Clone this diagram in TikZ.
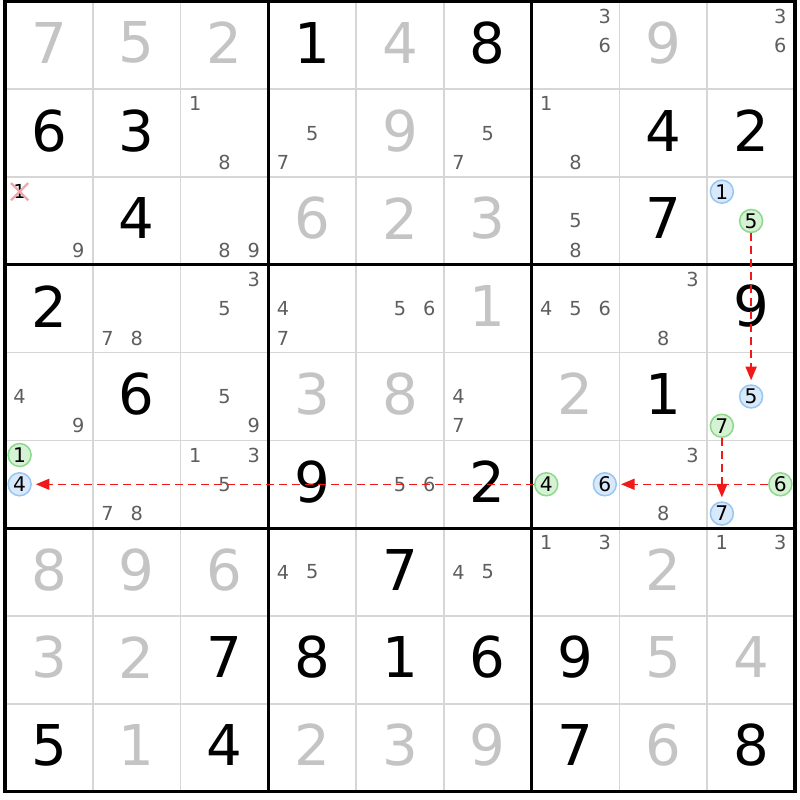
\documentclass[tikz,border=0pt]{standalone}
\usepackage{fontspec}
\setmainfont{DejaVu Sans}
\usetikzlibrary{arrows.meta,shapes.misc}

\definecolor{givengray}{HTML}{C4C4C4}
\definecolor{candgray}{HTML}{5E5E5E}
\definecolor{gridgray}{HTML}{D6D6D6}
\definecolor{greenfill}{HTML}{D5F2D5}
\definecolor{greendraw}{HTML}{8CD98C}
\definecolor{bluefill}{HTML}{D8E9FB}
\definecolor{bluedraw}{HTML}{98C6F2}
\definecolor{linkred}{HTML}{F01818}
\definecolor{crosspink}{HTML}{F4A4AC}

\tikzset{
    thingrid/.style={draw=gridgray, line width=0.035cm},
    thickgrid/.style={draw=black, line width=0.065cm},
    given/.style={text=givengray, font=\fontsize{32}{32}\selectfont, yshift=0.05cm},
    solved/.style={text=black, font=\fontsize{32}{32}\selectfont, yshift=0.05cm},
    cand/.style={text=candgray, font=\fontsize{11}{12}\selectfont, inner sep=0pt},
    circcand/.style={circle, inner sep=0pt, minimum size=0.46cm, line width=0.03cm,
        text=black, font=\fontsize{11.5}{12}\selectfont},
    greencand/.style={circcand, draw=greendraw, fill=greenfill},
    bluecand/.style={circcand, draw=bluedraw, fill=bluefill},
    elimcand/.style={cross out, draw=crosspink, line width=0.045cm, inner sep=0pt,
        minimum width=0.3cm, minimum height=0.3cm, text=black,
        font=\fontsize{11}{12}\selectfont},
    link/.style={draw=linkred, line width=0.03cm, dash pattern=on 0.16cm off 0.1cm,
        -{Triangle[length=0.27cm,width=0.22cm]}, shorten >=0.08cm},
}

% cell digits: column, row, digit
\newcommand{\givendigit}[3]{\node[given] at (#1-0.5,0.5-#2) {#3};}
\newcommand{\solveddigit}[3]{\node[solved] at (#1-0.5,0.5-#2) {#3};}
% pencil marks: column, row, list of digits
\newcommand{\cands}[3]{%
    \foreach \d in {#3}
        \node[cand] at ({#1-1+(mod(\d-1,3)+0.5)/3},{1-#2-(floor((\d-1)/3)+0.5)/3}) {\d};}
% marked pencil mark: [style] name, column, row, digit
\newcommand{\markedcand}[5][greencand]{%
    \node[#1] (#2) at ({#3-1+(mod(#5-1,3)+0.5)/3},{1-#4-(floor((#5-1)/3)+0.5)/3}) {#5};}

\begin{document}
\begin{tikzpicture}[x=1.756cm, y=1.756cm]
    \useasboundingbox[fill=white] (-0.057,0.017) rectangle (9.057,-9.097);

    % grid
    \foreach \i in {1,...,8} {
        \draw[thingrid] (\i,0) -- (\i,-9);
        \draw[thingrid] (0,-\i) -- (9,-\i);
    }
    \foreach \i in {3,6} {
        \draw[thickgrid] (\i,0) -- (\i,-9);
        \draw[thickgrid] (0,-\i) -- (9,-\i);
    }
    \draw[thickgrid] (0,0) rectangle (9,-9);

    % givens
    \givendigit{1}{1}{7} \givendigit{2}{1}{5} \givendigit{3}{1}{2}
    \givendigit{5}{1}{4} \givendigit{8}{1}{9}
    \givendigit{5}{2}{9}
    \givendigit{4}{3}{6} \givendigit{5}{3}{2} \givendigit{6}{3}{3}
    \givendigit{6}{4}{1}
    \givendigit{4}{5}{3} \givendigit{5}{5}{8} \givendigit{7}{5}{2}
    \givendigit{1}{7}{8} \givendigit{2}{7}{9} \givendigit{3}{7}{6} \givendigit{8}{7}{2}
    \givendigit{1}{8}{3} \givendigit{2}{8}{2} \givendigit{8}{8}{5} \givendigit{9}{8}{4}
    \givendigit{2}{9}{1} \givendigit{4}{9}{2} \givendigit{5}{9}{3}
    \givendigit{6}{9}{9} \givendigit{8}{9}{6}

    % solved cells
    \solveddigit{4}{1}{1} \solveddigit{6}{1}{8}
    \solveddigit{1}{2}{6} \solveddigit{2}{2}{3} \solveddigit{8}{2}{4} \solveddigit{9}{2}{2}
    \solveddigit{2}{3}{4} \solveddigit{8}{3}{7}
    \solveddigit{1}{4}{2} \solveddigit{9}{4}{9}
    \solveddigit{2}{5}{6} \solveddigit{8}{5}{1}
    \solveddigit{4}{6}{9} \solveddigit{6}{6}{2}
    \solveddigit{5}{7}{7}
    \solveddigit{3}{8}{7} \solveddigit{4}{8}{8} \solveddigit{5}{8}{1}
    \solveddigit{6}{8}{6} \solveddigit{7}{8}{9}
    \solveddigit{1}{9}{5} \solveddigit{3}{9}{4} \solveddigit{7}{9}{7} \solveddigit{9}{9}{8}

    % pencil marks
    \cands{7}{1}{3,6} \cands{9}{1}{3,6}
    \cands{3}{2}{1,8} \cands{4}{2}{5,7} \cands{6}{2}{5,7} \cands{7}{2}{1,8}
    \cands{1}{3}{9} \cands{3}{3}{8,9} \cands{7}{3}{5,8}
    \cands{2}{4}{7,8} \cands{3}{4}{3,5} \cands{4}{4}{4,7} \cands{5}{4}{5,6}
    \cands{7}{4}{4,5,6} \cands{8}{4}{3,8}
    \cands{1}{5}{4,9} \cands{3}{5}{5,9} \cands{6}{5}{4,7}
    \cands{2}{6}{7,8} \cands{3}{6}{1,3,5} \cands{5}{6}{5,6} \cands{8}{6}{3,8}
    \cands{4}{7}{4,5} \cands{6}{7}{4,5} \cands{7}{7}{1,3} \cands{9}{7}{1,3}

    % eliminated
    \node[elimcand] (x1) at ({0+0.5/3},{-2-0.5/3}) {1};

    % chain
    \markedcand[bluecand]{b1}{9}{3}{1}
    \markedcand{g5}{9}{3}{5}
    \markedcand[bluecand]{b5}{9}{5}{5}
    \markedcand{g7}{9}{5}{7}
    \markedcand[bluecand]{b7}{9}{6}{7}
    \markedcand{g6}{9}{6}{6}
    \markedcand[bluecand]{b6}{7}{6}{6}
    \markedcand{g4}{7}{6}{4}
    \markedcand[bluecand]{b4}{1}{6}{4}
    \markedcand{g1}{1}{6}{1}

    \draw[link] (g5) -- (b5);
    \draw[link] (g7) -- (b7);
    \draw[link] (g6) -- (b6);
    \draw[link] (g4) -- (b4);
\end{tikzpicture}
\end{document}
